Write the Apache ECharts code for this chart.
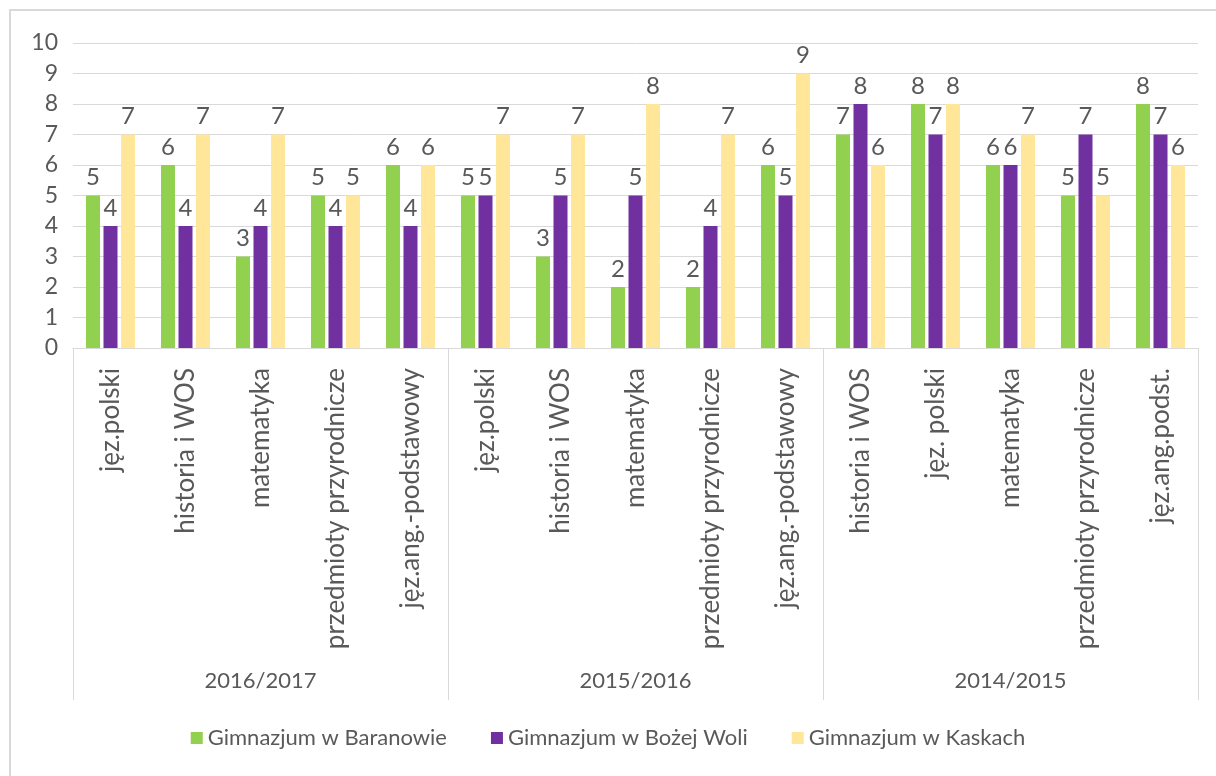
<!DOCTYPE html>
<html>
<head>
<meta charset="utf-8">
<script src="https://cdn.jsdelivr.net/npm/echarts@6/dist/echarts.min.js"></script>
<style>
  html, body { margin: 0; padding: 0; background: #fff; }
  #chart { width: 1216px; height: 776px; }
</style>
</head>
<body>
<div id="chart"></div>
<script>
// data
var subjects = [
  "jęz.polski", "historia i WOS", "matematyka", "przedmioty przyrodnicze", "jęz.ang.-podstawowy",
  "jęz.polski", "historia i WOS", "matematyka", "przedmioty przyrodnicze", "jęz.ang.-podstawowy",
  "historia i WOS", "jęz. polski", "matematyka", "przedmioty przyrodnicze", "jęz.ang.podst."
];
var years = ["2016/2017", "2015/2016", "2014/2015"];
var schools = ["Gimnazjum w Baranowie", "Gimnazjum w Bożej Woli", "Gimnazjum w Kaskach"];
var baranow = [5, 6, 3, 5, 6, 5, 3, 2, 2, 6, 7, 8, 6, 5, 8];
var bozaWola = [4, 4, 4, 4, 4, 5, 5, 5, 4, 5, 8, 7, 6, 7, 7];
var kaski = [7, 7, 7, 5, 6, 7, 7, 8, 7, 9, 6, 8, 7, 5, 6];
var yTicks = [0, 1, 2, 3, 4, 5, 6, 7, 8, 9, 10];

var colors = ["#92D050", "#7030A0", "#FFE699"];
var font = "Lato, 'Open Sans', sans-serif";
var gray = "#595959";

var myChart = echarts.init(document.getElementById("chart"), null, { renderer: "canvas" });

function barSeries(name, data, color) {
  return {
    name: name,
    type: "bar",
    barWidth: 14,
    barGap: "25%",
    itemStyle: { color: color },
    label: {
      show: true,
      position: "top",
      distance: 6,
      color: gray,
      fontSize: 24,
      fontFamily: font
    },
    data: data
  };
}

var option = {
  backgroundColor: "#ffffff",
  animation: false,
  color: colors,
  graphic: [{
    type: "rect",
    shape: { x: 10, y: 10, width: 1300, height: 900 },
    style: { fill: null, stroke: "#d9d9d9", lineWidth: 2 },
    silent: true
  }],
  legend: {
    data: schools,
    bottom: 22,
    left: "center",
    icon: "rect",
    itemWidth: 12,
    itemHeight: 12,
    itemGap: 44,
    textStyle: { color: gray, fontSize: 22, fontFamily: font }
  },
  grid: {
    left: 73,
    right: 18,
    top: 43,
    bottom: 428,
    containLabel: false
  },
  xAxis: [
    {
      type: "category",
      data: subjects,
      axisLine: { lineStyle: { color: "#d9d9d9", width: 1 } },
      axisTick: { show: false },
      axisLabel: {
        interval: 0,
        rotate: 90,
        margin: 20,
        color: gray,
        fontSize: 26,
        fontFamily: font
      }
    },
    {
      type: "category",
      data: years,
      position: "bottom",
      offset: 352,
      axisLine: { show: false },
      axisTick: {
        show: true,
        inside: true,
        length: 352,
        interval: 0,
        lineStyle: { color: "#d9d9d9", width: 1 }
      },
      axisLabel: {
        inside: true,
        margin: 8,
        color: gray,
        fontSize: 22,
        fontFamily: font
      }
    }
  ],
  yAxis: {
    type: "value",
    min: yTicks[0],
    max: yTicks[yTicks.length - 1],
    interval: 1,
    axisLine: { show: false },
    axisTick: { show: false },
    splitLine: { lineStyle: { color: "#d9d9d9", width: 1 } },
    axisLabel: { margin: 15, color: gray, fontSize: 23, fontFamily: font }
  },
  series: [
    barSeries(schools[0], baranow, colors[0]),
    barSeries(schools[1], bozaWola, colors[1]),
    barSeries(schools[2], kaski, colors[2])
  ]
};

myChart.setOption(option, true);
</script>
</body>
</html>
